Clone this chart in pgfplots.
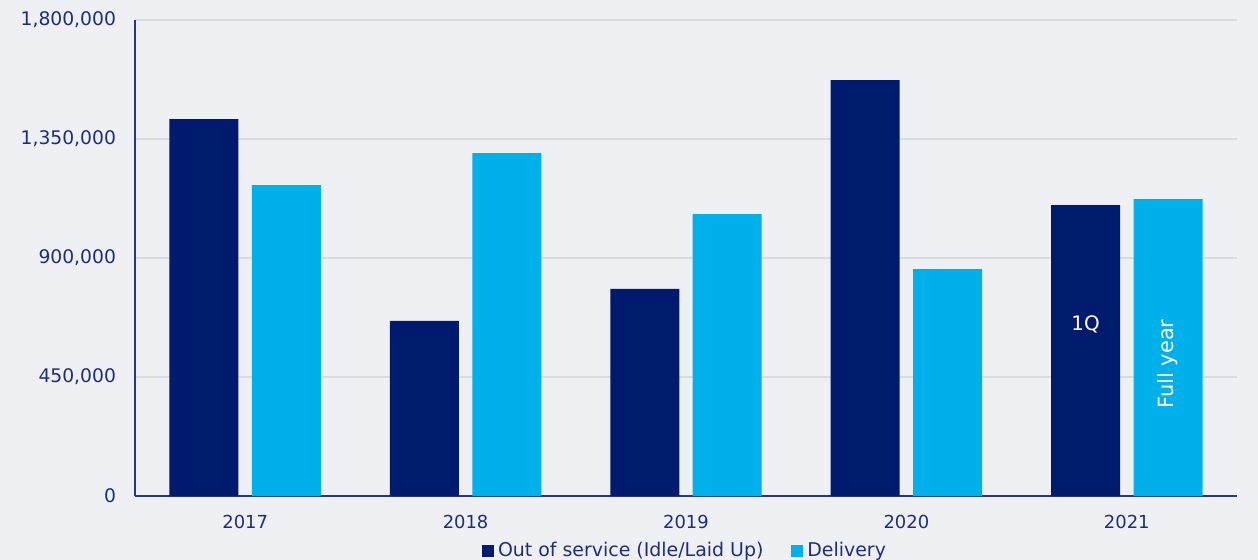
\documentclass[border=0pt]{standalone}
\usepackage{pgfplots}
\pgfplotsset{compat=1.18}
\usepackage{fontspec}
\setmainfont{DejaVu Sans}
\definecolor{navybar}{RGB}{0,26,110}
\definecolor{lightbar}{RGB}{0,176,234}
\definecolor{txt}{RGB}{30,45,125}
\definecolor{axl}{RGB}{40,55,140}
\definecolor{bg}{RGB}{239,240,243}
\definecolor{gridc}{RGB}{218,219,223}
\begin{document}
\begin{tikzpicture}
\fill[bg] (-67.5bp,-32bp) rectangle (561.5bp,248bp);
\begin{axis}[
  at={(0,0)}, anchor=south west,
  scale only axis, width=551bp, height=238bp,
  xmin=-0.5, xmax=4.5, ymin=0, ymax=1800000,
  xtick={0,1,2,3,4}, xticklabels={2017,2018,2019,2020,2021},
  ytick={0,450000,900000,1350000,1800000},
  scaled y ticks=false,
  /pgf/number format/fixed,
  /pgf/number format/1000 sep={,},
  /pgf/number format/assume math mode=true,
  axis x line*=bottom, axis y line*=left,
  axis line style={axl, line width=0.7bp, -},
  major tick length=0,
  ymajorgrids, grid style={gridc, line width=0.6bp},
  font=\fontsize{9}{11}\selectfont,
  tick label style={txt, font=\fontsize{9}{11}\selectfont},
  yticklabel style={xshift=-6bp, font=\fontsize{9.4}{11}\selectfont},
  xticklabel style={yshift=-6bp},
  ybar, bar width=0.313,
  legend style={at={(0.5,-0.1155)}, anchor=center, draw=none, fill=none,
    legend columns=2, font=\fontsize{9.5}{11}\selectfont, text=txt,
    /tikz/every even column/.append style={column sep=12bp}},
  legend image code/.code={\fill[#1] (0bp,-3bp) rectangle (6bp,3bp);},
]
\addplot[fill=navybar, draw=none, bar shift=-0.187] coordinates {
  (0,1425000) (1,662000) (2,783000) (3,1573000) (4,1100000)};
\addlegendentry{Out of service (Idle/Laid Up)}
\addplot[fill=lightbar, draw=none, bar shift=0.187] coordinates {
  (0,1176000) (1,1297000) (2,1066000) (3,858000) (4,1123000)};
\addlegendentry{Delivery}
\node[white, font=\fontsize{10}{12}\selectfont] at (axis cs:3.813,650000) {1Q};
\node[white, rotate=90, font=\fontsize{10.5}{12}\selectfont] at (axis cs:4.187,499000) {Full year};
\end{axis}
\pgfresetboundingbox
\path[use as bounding box] (-67.5bp,-32bp) rectangle (561.5bp,248bp);
\end{tikzpicture}
\end{document}
